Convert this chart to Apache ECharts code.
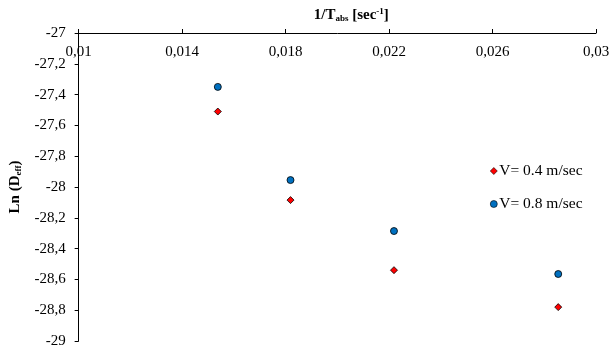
<!DOCTYPE html>
<html>
<head>
<meta charset="utf-8">
<script src="https://cdn.jsdelivr.net/npm/echarts@6/dist/echarts.min.js"></script>
<style>
  html, body { margin: 0; padding: 0; background: #fff; }
  #chart { width: 614px; height: 354px; }
</style>
</head>
<body>
<div id="chart"></div>
<script>
// 数据
const invT = [0.01538, 0.01819, 0.02219, 0.02854]
const lnD04 = [-27.51, -28.085, -28.54, -28.78]
const lnD08 = [-27.35, -27.955, -28.286, -28.565]
const seriesNames = ['V= 0.4 m/sec', 'V= 0.8 m/sec']

const font = 'Liberation Serif'
const comma = v => String(parseFloat(v.toFixed(4))).replace('.', ',')

const option = {
  backgroundColor: '#fff',
  animation: false,
  textStyle: { fontFamily: font, color: '#000' },
  grid: { left: 76, right: 18, top: 33, bottom: 13 },
  legend: {
    orient: 'vertical',
    left: 485,
    top: 158,
    itemGap: 17,
    itemWidth: 7,
    itemHeight: 7,
    itemStyle: { borderColor: '#000', borderWidth: 0.6 },
    textStyle: { fontFamily: font, fontSize: 15.5, color: '#000', padding: [0, 0, 0, -3] },
    data: seriesNames
  },
  xAxis: {
    type: 'value',
    position: 'top',
    min: 0.01,
    max: 0.03,
    interval: 0.004,
    name: '{b|1/T}{sub|abs}{b| [sec}{sup|-1}{b|]}',
    nameLocation: 'middle',
    nameGap: 10,
    nameTextStyle: {
      padding: [0, 0, 0, 28],
      rich: {
        b: { fontFamily: font, fontSize: 15, fontWeight: 'bold', color: '#000' },
        sub: { fontFamily: font, fontSize: 9, fontWeight: 'bold', color: '#000', padding: [7, 0, 0, 0] },
        sup: { fontFamily: font, fontSize: 9, fontWeight: 'bold', color: '#000', padding: [0, 0, 7, 0] }
      }
    },
    axisLine: { show: true, lineStyle: { color: '#000', width: 1 } },
    axisTick: { show: true, inside: false, length: 4, lineStyle: { color: '#000' } },
    axisLabel: {
      inside: true,
      margin: 12,
      fontFamily: font,
      fontSize: 15,
      color: '#000',
      formatter: v => comma(v)
    },
    splitLine: { show: false }
  },
  yAxis: {
    type: 'value',
    min: -29,
    max: -27,
    interval: 0.2,
    name: '{b|Ln (D}{sub|eff}{b|)}',
    nameLocation: 'middle',
    nameGap: 55,
    nameTextStyle: {
      rich: {
        b: { fontFamily: font, fontSize: 15, fontWeight: 'bold', color: '#000' },
        sub: { fontFamily: font, fontSize: 9, fontWeight: 'bold', color: '#000', padding: [7, 0, 0, 0] }
      }
    },
    axisLine: { show: true, lineStyle: { color: '#000', width: 1 } },
    axisTick: { show: true, inside: false, length: 4, lineStyle: { color: '#000' } },
    axisLabel: {
      margin: 13,
      fontFamily: font,
      fontSize: 15,
      color: '#000',
      formatter: v => comma(v)
    },
    splitLine: { show: false }
  },
  series: [
    {
      name: seriesNames[0],
      type: 'scatter',
      symbol: 'diamond',
      symbolSize: 7,
      itemStyle: { color: '#FF0000', borderColor: '#000', borderWidth: 0.8, opacity: 1 },
      data: invT.map((x, i) => [x, lnD04[i]])
    },
    {
      name: seriesNames[1],
      type: 'scatter',
      symbol: 'circle',
      symbolSize: 7,
      itemStyle: { color: '#0070C0', borderColor: '#000', borderWidth: 0.8, opacity: 1 },
      data: invT.map((x, i) => [x, lnD08[i]])
    }
  ]
}

const chart = echarts.init(document.getElementById('chart'))
chart.setOption(option, true)
</script>
</body>
</html>
